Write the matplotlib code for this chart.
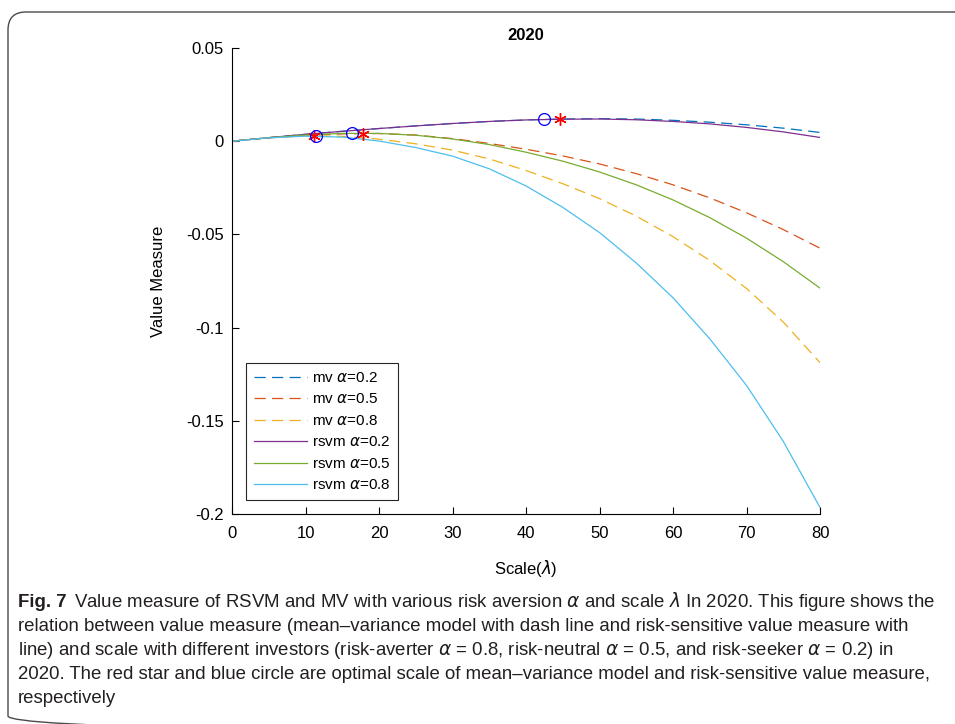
import matplotlib
matplotlib.use("Agg")
import matplotlib.pyplot as plt
import matplotlib.font_manager as fm
from matplotlib.patches import FancyBboxPatch

# scale lambda, sampled every 5
scale = [0, 5, 10, 15, 20, 25, 30, 35, 40, 45, 50, 55, 60, 65, 70, 75, 80]

# value measure
mv_02 = [0, 0.0019, 0.0037, 0.0053, 0.0068, 0.0082, 0.0095, 0.0106, 0.0114, 0.0119,
         0.0121, 0.0119, 0.0112, 0.0102, 0.0088, 0.0070, 0.0047]
mv_05 = [0, 0.0018, 0.0031, 0.0039, 0.0041, 0.0033, 0.0014, -0.0012, -0.0043, -0.0079,
         -0.0122, -0.0174, -0.0234, -0.0304, -0.0384, -0.0474, -0.0574]
mv_08 = [0, 0.0019, 0.0029, 0.0026, 0.0011, -0.0014, -0.0048, -0.0095, -0.0157, -0.0228,
         -0.0308, -0.0402, -0.0512, -0.0640, -0.0790, -0.0970, -0.1188]
rsvm_02 = [0, 0.0019, 0.0037, 0.0053, 0.0068, 0.0082, 0.0095, 0.0106, 0.0114, 0.0118,
           0.0119, 0.0115, 0.0106, 0.0093, 0.0074, 0.0050, 0.0020]
rsvm_05 = [0, 0.0019, 0.0033, 0.0042, 0.0042, 0.0032, 0.0012, -0.0018, -0.0059, -0.0107,
           -0.0165, -0.0234, -0.0315, -0.0410, -0.0520, -0.0646, -0.0788]
rsvm_08 = [0, 0.0018, 0.0027, 0.0022, 0.0001, -0.0034, -0.0080, -0.0148, -0.0240, -0.0355,
           -0.0490, -0.0653, -0.0840, -0.1060, -0.1310, -0.1610, -0.1965]

# optimal scales
mv_opt_x = [11.2, 17.8, 44.6]
mv_opt_y = [0.0029, 0.0040, 0.0120]
rsvm_opt_x = [11.4, 16.3, 42.4]
rsvm_opt_y = [0.0027, 0.0045, 0.0120]

labels = ["mv $\\alpha$=0.2", "mv $\\alpha$=0.5", "mv $\\alpha$=0.8",
          "rsvm $\\alpha$=0.2", "rsvm $\\alpha$=0.5", "rsvm $\\alpha$=0.8"]
yticks = [-0.2, -0.15, -0.1, -0.05, 0, 0.05]
ytick_labels = ["-0.2", "-0.15", "-0.1", "-0.05", "0", "0.05"]
xticks = [0, 10, 20, 30, 40, 50, 60, 70, 80]

caption = [
    "Value measure of RSVM and MV with various risk aversion $\\alpha$ and scale $\\lambda$ In 2020. This figure shows the",
    "relation between value measure (mean\u2013variance model with dash line and risk-sensitive value measure with",
    "line) and scale with different investors (risk-averter $\\alpha$ = 0.8, risk-neutral $\\alpha$ = 0.5, and risk-seeker $\\alpha$ = 0.2) in",
    "2020. The red star and blue circle are optimal scale of mean\u2013variance model and risk-sensitive value measure,",
    "respectively",
]
# right ends of the caption lines in the original, px
caption_ends = [938, 940, 925, 944]

plt.rcParams["font.family"] = ["Liberation Sans", "DejaVu Sans"]
plt.rcParams["axes.unicode_minus"] = False

W, H = 955, 724
fig = plt.figure(figsize=(W / 100, H / 100), dpi=100)
fig.patch.set_facecolor("white")

# background layer in pixel coordinates: border + caption
bg = fig.add_axes([0, 0, 1, 1], zorder=0)
bg.set_xlim(0, W)
bg.set_ylim(H, 0)
bg.axis("off")
bg.add_patch(FancyBboxPatch((8, 12), 990, 722, boxstyle="round,pad=0,rounding_size=18",
                            fc="none", ec="#4a4a4a", lw=1.0))

ax = fig.add_axes([232 / W, 1 - 514 / H, 588 / W, 466 / H], zorder=1)

c_blue = "#0072BD"
c_orange = "#D95319"
c_yellow = "#EDB120"
c_purple = "#7E2F8E"
c_green = "#77AC30"
c_cyan = "#4DBEEE"

lw = 0.9
dash = (9, 5)
ax.plot(scale, mv_02, color=c_blue, lw=lw, dashes=dash, label=labels[0])
ax.plot(scale, mv_05, color=c_orange, lw=lw, dashes=dash, label=labels[1])
ax.plot(scale, mv_08, color=c_yellow, lw=lw, dashes=dash, label=labels[2])
ax.plot(scale, rsvm_02, color=c_purple, lw=lw, label=labels[3])
ax.plot(scale, rsvm_05, color=c_green, lw=lw, label=labels[4])
ax.plot(scale, rsvm_08, color=c_cyan, lw=lw, label=labels[5])

ax.plot(mv_opt_x, mv_opt_y, ls="none", marker=(6, 2, 0), ms=9, mew=1.0, color="red")
ax.plot(rsvm_opt_x, rsvm_opt_y, ls="none", marker="o", ms=8.5, mew=0.9, mfc="none", color="blue")

ax.set_xlim(0, 80)
ax.set_ylim(-0.2, 0.05)
ax.set_xticks(xticks)
ax.set_xticklabels([str(t) for t in xticks])
ax.set_yticks(yticks)
ax.set_yticklabels(ytick_labels)
for s in ["top", "right"]:
    ax.spines[s].set_visible(False)
for s in ["left", "bottom"]:
    ax.spines[s].set_linewidth(0.8)
ax.tick_params(direction="in", length=5, width=0.8, labelsize=12)
ax.tick_params(axis="x", pad=9)
ax.tick_params(axis="y", pad=6)

ax.set_title("2020", fontsize=12, fontweight="bold", pad=6)
ax.set_xlabel("Scale($\\lambda$)", fontsize=12, labelpad=12)
ax.set_ylabel("Value Measure", fontsize=12, labelpad=14)

leg = ax.legend(loc="lower left", bbox_to_anchor=(0.024, 0.03), fontsize=11,
                handlelength=3.5, handletextpad=0.3, labelspacing=0.49,
                borderpad=0.5, borderaxespad=0, fancybox=False, framealpha=1)
leg.get_frame().set_edgecolor("#262626")
leg.get_frame().set_linewidth(0.8)

# caption
names = {f.name for f in fm.fontManager.ttflist}
cap_font = "Liberation Sans Narrow" if "Liberation Sans Narrow" in names else "Liberation Sans"
cap_color = "#231f20"
r = fig.canvas.get_renderer()

x0 = 18
baselines = [607, 631, 655, 679, 703]
head = bg.text(x0, baselines[0], "Fig. 7", fontsize=12, family=cap_font,
               fontweight="bold", va="baseline", color=cap_color)
hw = head.get_window_extent(r).width
starts = [x0 + hw + 8, x0, x0, x0]

# one font size for the whole caption, so that no line runs past its end
fits = []
for line, st, end in zip(caption[:4], starts, caption_ends):
    probe = bg.text(0, 0, line, fontsize=12, family=cap_font)
    fits.append(12 * (end - st) / probe.get_window_extent(r).width)
    probe.remove()
fs = min(fits) * 0.99
head.set_fontsize(fs)
hw = head.get_window_extent(r).width

bg.text(x0 + hw + 7, baselines[0], caption[0], fontsize=fs, family=cap_font,
        va="baseline", color=cap_color)
for line, yb in zip(caption[1:], baselines[1:]):
    bg.text(x0, yb, line, fontsize=fs, family=cap_font, va="baseline", color=cap_color)

fig.savefig("out.png", dpi=100)
